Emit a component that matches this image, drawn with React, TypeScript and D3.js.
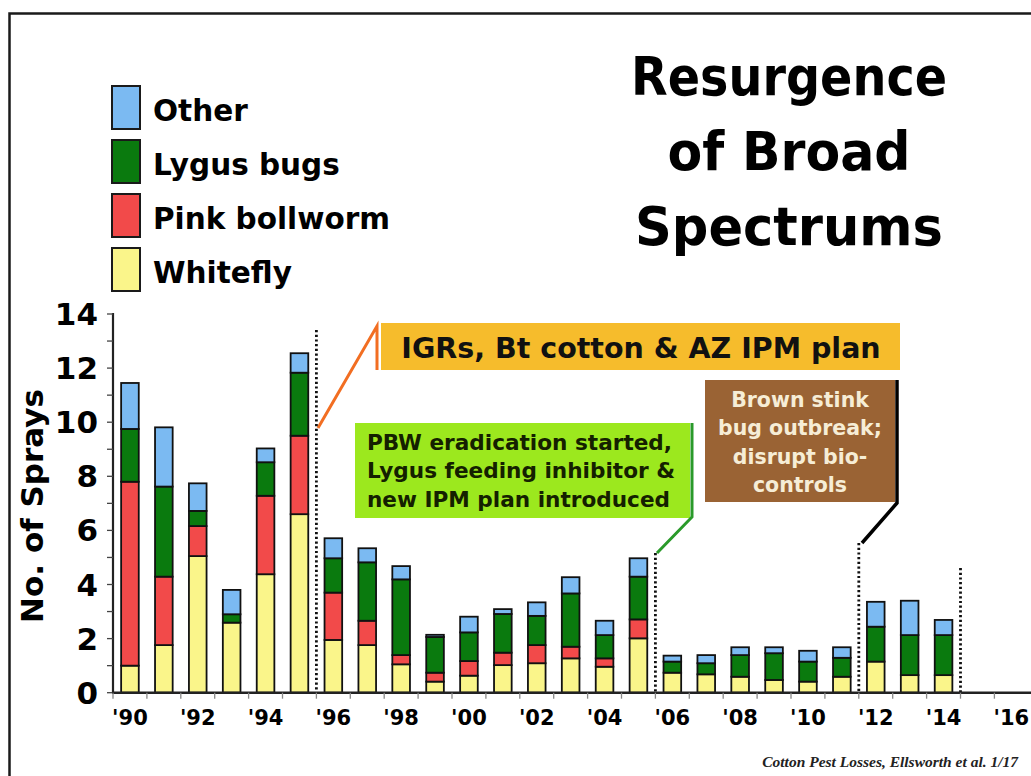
import React from 'react';
import * as d3 from 'd3';

// ---------- data ----------
const years = ['1990','1991','1992','1993','1994','1995','1996','1997','1998','1999','2000','2001','2002','2003','2004','2005','2006','2007','2008','2009','2010','2011','2012','2013','2014','2015','2016'];
const barYears = ['1990','1991','1992','1993','1994','1995','1996','1997','1998','1999','2000','2001','2002','2003','2004','2005','2006','2007','2008','2009','2010','2011','2012','2013','2014'];
const whitefly =     [1.0, 1.76, 5.05, 2.59, 4.38, 6.6, 1.95, 1.76, 1.05, 0.41, 0.63, 1.02, 1.09, 1.27, 0.96, 2.01, 0.74, 0.68, 0.59, 0.47, 0.41, 0.59, 1.15, 0.65, 0.65];
const pinkBollworm = [6.8, 2.53, 1.11, 0.0, 2.9, 2.9, 1.75, 0.9, 0.34, 0.33, 0.54, 0.46, 0.67, 0.43, 0.31, 0.7, 0, 0, 0, 0, 0, 0, 0, 0, 0];
const lygusBugs =    [1.95, 3.33, 0.56, 0.31, 1.24, 2.33, 1.27, 2.16, 2.8, 1.32, 1.06, 1.43, 1.08, 1.97, 0.86, 1.58, 0.41, 0.41, 0.8, 0.99, 0.74, 0.7, 1.29, 1.48, 1.48];
const other =        [1.7, 2.19, 1.02, 0.9, 0.51, 0.72, 0.74, 0.52, 0.49, 0.08, 0.58, 0.18, 0.5, 0.6, 0.53, 0.68, 0.22, 0.3, 0.29, 0.22, 0.4, 0.39, 0.92, 1.27, 0.56];
const seriesKeys = ['Whitefly', 'Pink bollworm', 'Lygus bugs', 'Other'];
const legendOrder = ['Other', 'Lygus bugs', 'Pink bollworm', 'Whitefly'];
const yTicks = [0, 2, 4, 6, 8, 10, 12, 14];
const yMinorTicks = [0,1,2,3,4,5,6,7,8,9,10,11,12,13,14];
const xLabelYears = ['1990','1992','1994','1996','1998','2000','2002','2004','2006','2008','2010','2012','2014','2016'];
const xLabels = ["'90","'92","'94","'96","'98","'00","'02","'04","'06","'08","'10","'12","'14","'16"];
const titleLines = ['Resurgence', 'of Broad', 'Spectrums'];
const igrText = 'IGRs, Bt cotton & AZ IPM plan';
const pbwLines = ['PBW eradication started,', 'Lygus feeding inhibitor &', 'new IPM plan introduced'];
const bsbLines = ['Brown stink', 'bug outbreak;', 'disrupt bio-', 'controls'];
const sourceText = 'Cotton Pest Losses, Ellsworth et al. 1/17';

const colors: Record<string, string> = {
  'Whitefly': '#FAF58A',
  'Pink bollworm': '#F24A4A',
  'Lygus bugs': '#0A7A0E',
  'Other': '#7BBAF2',
};

const FONT = '"DejaVu Sans", Verdana, sans-serif';

export default function App() {
  const W = 1031, H = 776;
  const x = d3.scaleBand<string>().domain(years).range([113, 1028.3]).padding(0);
  const y = d3.scaleLinear().domain([0, 14]).range([692.7, 314]);
  const bw = x.bandwidth();
  const barW = bw * 0.52;

  const rows = barYears.map((yr, i) => ({
    year: yr,
    'Whitefly': whitefly[i],
    'Pink bollworm': pinkBollworm[i],
    'Lygus bugs': lygusBugs[i],
    'Other': other[i],
  }));
  const stacked = d3.stack<any>().keys(seriesKeys)(rows);

  const boundary = (yr: string) => x(yr) as number; // left edge of band
  const dotted = [
    { yr: '1996', top: 330 },
    { yr: '2006', top: 553 },
    { yr: '2012', top: 543 },
    { yr: '2015', top: 568 },
  ];

  return (
    <svg width={W} height={H} style={{ position: 'absolute', left: 0, top: 0, background: '#fff' }}>
      <rect x={0} y={0} width={W} height={H} fill="#fff" />
      {/* frame */}
      <path d={`M9.5,${H + 5} L9.5,13.5 L${W + 5},13.5`} fill="none" stroke="#1a1a1a" strokeWidth={2.5} />

      {/* title */}
      <g fontFamily={FONT} fontWeight="bold" fontSize={54} fill="#000" textAnchor="middle">
        {titleLines.map((t, i) => (
          <text key={t} x={789} y={[95, 170, 245][i]} textLength={[316, 243, 308][i]} lengthAdjust="spacingAndGlyphs">{t}</text>
        ))}
      </g>

      {/* legend */}
      <g fontFamily={FONT} fontWeight="bold" fontSize={29.5} fill="#000">
        {legendOrder.map((k, i) => (
          <g key={k}>
            <rect x={112} y={86 + i * 54} width={28} height={43} fill={colors[k]} stroke="#1a1a1a" strokeWidth={2} />
            <text x={153} y={121 + i * 54}>{k}</text>
          </g>
        ))}
      </g>

      {/* annotations: IGR box */}
      <rect x={381} y={323} width={519} height={47} fill="#F6BC2C" />
      <text x={641} y={358} fontFamily={FONT} fontWeight="bold" fontSize={28.5} textAnchor="middle" fill="#111">{igrText}</text>
      <path d="M318,428 L377,326 L377,370" fill="none" stroke="#F26E22" strokeWidth={3} />

      {/* PBW box */}
      <rect x={355} y={423} width={335} height={95} fill="#9CE81E" />
      <g fontFamily={FONT} fontWeight="bold" fontSize={21.6} fill="#142000">
        {pbwLines.map((t, i) => (
          <text key={t} x={367} y={450 + i * 28.3}>{t}</text>
        ))}
      </g>
      <path d="M692,423 L692,517 L657,553" fill="none" stroke="#2A9A2A" strokeWidth={3} />

      {/* BSB box */}
      <rect x={705} y={380} width={190} height={122} fill="#9A6334" />
      <g fontFamily={FONT} fontWeight="bold" fontSize={20.5} fill="#F6EDD6" textAnchor="middle">
        {bsbLines.map((t, i) => (
          <text key={t} x={800} y={407 + i * 28.3}>{t}</text>
        ))}
      </g>
      <path d="M897,380 L897,503 L862,543" fill="none" stroke="#000" strokeWidth={3.5} />

      {/* dotted lines */}
      {dotted.map(d => (
        <line key={d.yr} x1={boundary(d.yr)} x2={boundary(d.yr)} y1={d.top} y2={y(0)}
          stroke="#111" strokeWidth={2.8} strokeDasharray="2.2 2.5" />
      ))}

      {/* bars */}
      {stacked.map(s => (
        <g key={s.key}>
          {s.map((d: any) => {
            const h = y(d[0]) - y(d[1]);
            if (h <= 0.01) return null;
            return (
              <rect key={d.data.year}
                x={(x(d.data.year) as number) + (bw - barW) / 2}
                y={y(d[1])} width={barW} height={h}
                fill={colors[s.key]} stroke="#111" strokeWidth={1.8} />
            );
          })}
        </g>
      ))}

      {/* y axis */}
      <line x1={113} x2={113} y1={y(14) - 1} y2={y(0)} stroke="#222" strokeWidth={2.2} />
      {yMinorTicks.map(t => (
        <line key={'m' + t} x1={107} x2={113} y1={y(t)} y2={y(t)} stroke="#444" strokeWidth={1.3} />
      ))}
      <g fontFamily={FONT} fontWeight="bold" fontSize={31} fill="#000" textAnchor="end">
        {yTicks.map(t => (
          <text key={t} x={98} y={y(t) + 11}>{t}</text>
        ))}
      </g>
      <text transform={`translate(43,506) rotate(-90)`} fontFamily={FONT} fontWeight="bold" fontSize={31} textAnchor="middle" fill="#000">No. of Sprays</text>

      {/* x axis */}
      <line x1={112} x2={W} y1={y(0)} y2={y(0)} stroke="#222" strokeWidth={2.4} />
      {years.map(yr => (
        <line key={'t' + yr} x1={boundary(yr)} x2={boundary(yr)} y1={y(0)} y2={y(0) + 6} stroke="#888" strokeWidth={1.3} />
      ))}
      <g fontFamily={FONT} fontWeight="bold" fontSize={21} fill="#000" textAnchor="middle">
        {xLabelYears.map((yr, i) => (
          <text key={yr} x={(x(yr) as number) + bw / 2} y={725}>{xLabels[i]}</text>
        ))}
      </g>

      {/* source */}
      <text x={1018} y={767} fontFamily='"Liberation Serif", "Times New Roman", serif' fontWeight="bold" fontStyle="italic" fontSize={15.5} textAnchor="end" fill="#222">{sourceText}</text>
    </svg>
  );
}
